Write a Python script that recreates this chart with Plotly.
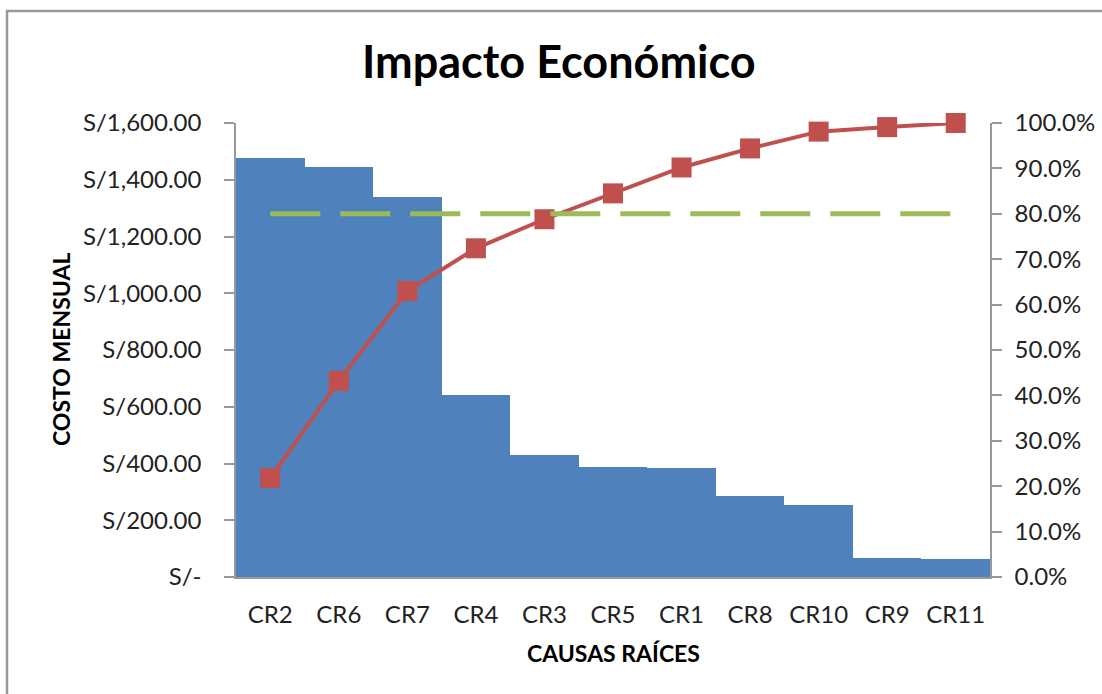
import plotly.graph_objects as go

categories = ["CR2", "CR6", "CR7", "CR4", "CR3", "CR5", "CR1", "CR8", "CR10", "CR9", "CR11"]
costs = [1478, 1446, 1340, 641, 429, 389, 384, 284, 253, 67, 62]
cumulative_pct = [21.8, 43.2, 63.0, 72.4, 78.8, 84.5, 90.2, 94.4, 98.1, 99.1, 100.0]
threshold_pct = [80, 80, 80, 80, 80, 80, 80, 80, 80, 80, 80]
left_tickvals = [0, 200, 400, 600, 800, 1000, 1200, 1400, 1600]
left_ticktext = ["S/-", "S/200.00", "S/400.00", "S/600.00", "S/800.00",
                 "S/1,000.00", "S/1,200.00", "S/1,400.00", "S/1,600.00"]
right_tickvals = [0, 10, 20, 30, 40, 50, 60, 70, 80, 90, 100]
right_ticktext = ["0.0%", "10.0%", "20.0%", "30.0%", "40.0%", "50.0%",
                  "60.0%", "70.0%", "80.0%", "90.0%", "100.0%"]

FONT = "Lato"
W, H = 1102, 694
L, R, T, B = 236, 990, 123, 577

fig = go.Figure()
fig.add_trace(go.Bar(x=categories, y=costs, marker=dict(color="#4F81BD", line=dict(width=0)),
                     name="Costo"))
fig.add_trace(go.Scatter(x=categories, y=cumulative_pct, yaxis="y2", mode="lines+markers",
                         line=dict(color="#C0504D", width=4),
                         marker=dict(symbol="square", size=20, color="#C0504D"),
                         cliponaxis=False, name="% acumulado"))
fig.add_trace(go.Scatter(x=categories, y=threshold_pct, yaxis="y2", mode="lines",
                         line=dict(color="#9BBB59", width=5, dash="50px,20px"),
                         name="80%"))

pw, ph = R - L, B - T
def px_x(x): return (x - L) / pw
def px_y(y): return (B - y) / ph

fig.update_layout(
    width=W, height=H,
    margin=dict(l=L, r=W - R, t=T, b=H - B, pad=0, autoexpand=False),
    paper_bgcolor="white", plot_bgcolor="white",
    showlegend=False, bargap=0,
    font=dict(family=FONT, color="#222222"),
    xaxis=dict(type="category", range=[-0.5, len(categories) - 0.5], automargin=False,
               showline=True, linecolor="#999999", linewidth=1.5,
               ticks="", tickfont=dict(size=24, family=FONT, color="#222222"),
               ticklabelstandoff=15, showgrid=False, fixedrange=True),
    yaxis=dict(range=[0, 1600], tickvals=left_tickvals, ticktext=left_ticktext,
               automargin=False,
               showline=True, linecolor="#999999", linewidth=1.5, ticks="outside",
               ticklen=10, tickcolor="#999999", tickwidth=1.5,
               tickfont=dict(size=24, family=FONT, color="#222222"),
               ticklabelstandoff=18, showgrid=False, zeroline=False),
    yaxis2=dict(range=[0, 100], tickvals=right_tickvals, ticktext=right_ticktext,
                automargin=False,
                overlaying="y", side="right", showline=True, linecolor="#999999",
                linewidth=1.5, ticks="outside", ticklen=10, tickcolor="#999999", tickwidth=1.5,
                tickfont=dict(size=24, family=FONT, color="#222222"),
                ticklabelstandoff=8, showgrid=False, zeroline=False),
    annotations=[
        dict(text="<b>Impacto Económico</b>", xref="paper", yref="paper",
             x=px_x(559), y=px_y(61), xanchor="center", yanchor="middle", showarrow=False,
             font=dict(size=45, family=FONT, color="#000000")),
        dict(text="<b>COSTO MENSUAL</b>", xref="paper", yref="paper",
             x=px_x(61), y=px_y(350), xanchor="center", yanchor="middle", showarrow=False,
             textangle=-90, font=dict(size=23, family=FONT, color="#000000")),
        dict(text="<b>CAUSAS RAÍCES</b>", xref="paper", yref="paper",
             x=px_x(613), y=px_y(653), xanchor="center", yanchor="middle", showarrow=False,
             font=dict(size=23, family=FONT, color="#000000")),
    ],
    shapes=[
        dict(type="path", xref="paper", yref="paper",
             path=f"M {px_x(7)} {px_y(720)} L {px_x(7)} {px_y(11)} L {px_x(1120)} {px_y(11)}",
             line=dict(color="#999999", width=2.5)),
    ],
)

fig.write_html("out.html")
